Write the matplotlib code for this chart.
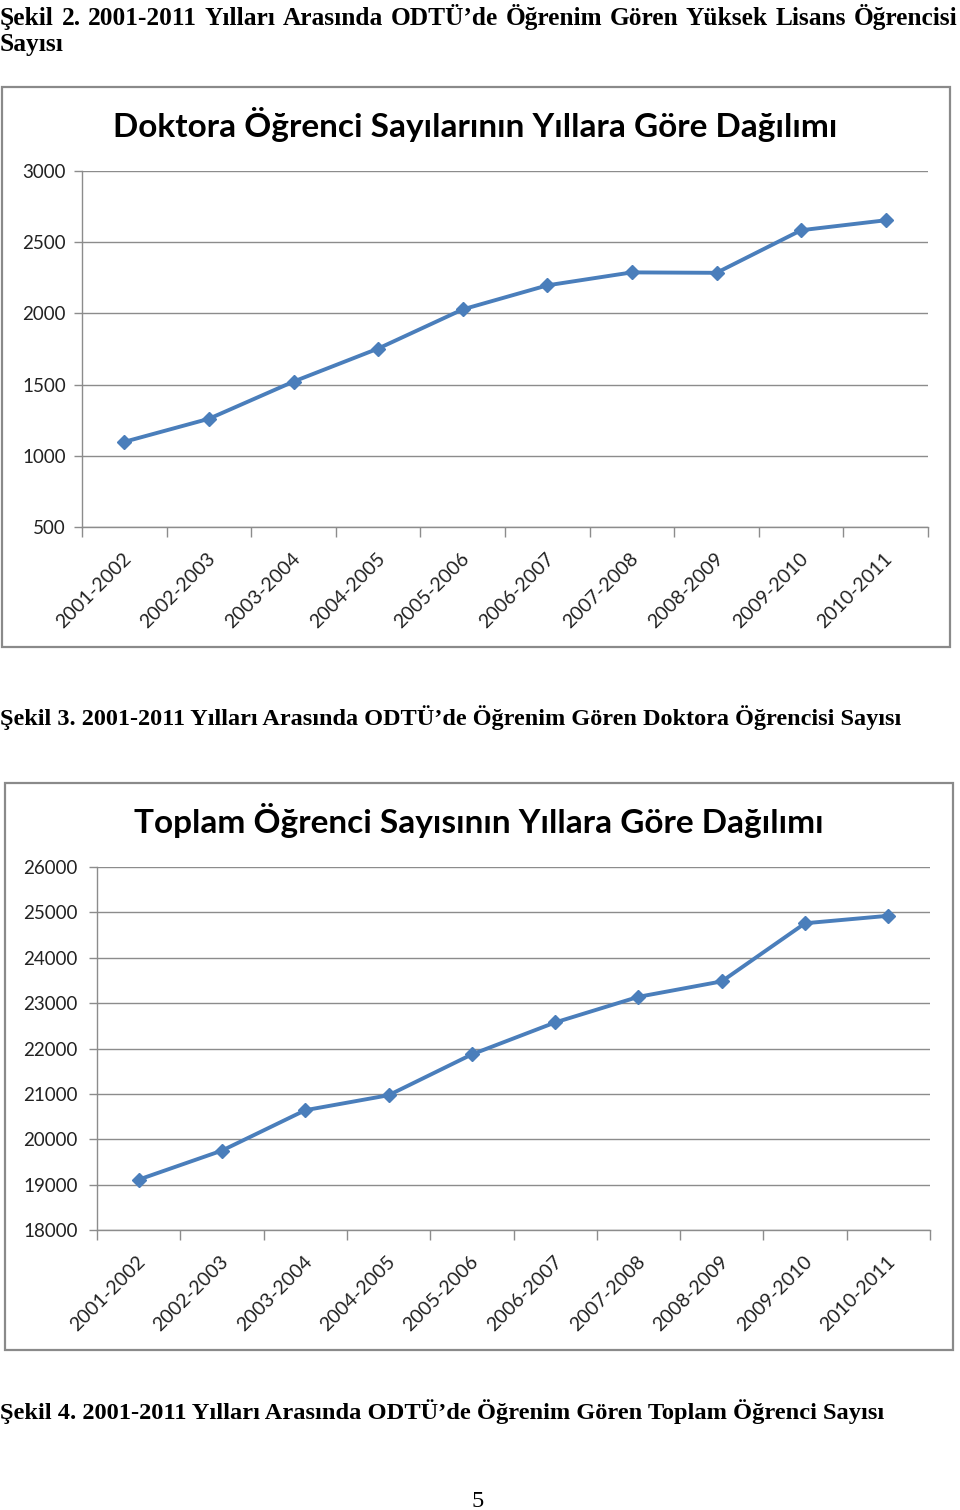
import numpy as np
import matplotlib
matplotlib.use("Agg")
import matplotlib.pyplot as plt
from matplotlib.patches import Rectangle
from matplotlib.transforms import ScaledTranslation

# ---------------- data ----------------
years = ["2001-2002", "2002-2003", "2003-2004", "2004-2005", "2005-2006",
         "2006-2007", "2007-2008", "2008-2009", "2009-2010", "2010-2011"]
doktora = [1098, 1260, 1521, 1753, 2028, 2197, 2288, 2285, 2584, 2654]
toplam = [19110, 19750, 20640, 20970, 21870, 22574, 23139, 23479, 24760, 24925]

doktora_ticks = [500, 1000, 1500, 2000, 2500, 3000]
toplam_ticks = [18000, 19000, 20000, 21000, 22000, 23000, 24000, 25000, 26000]

title1 = "Doktora Öğrenci Sayılarının Yıllara Göre Dağılımı"
title2 = "Toplam Öğrenci Sayısının Yıllara Göre Dağılımı"
cap2_line1 = "Şekil 2. 2001-2011 Yılları Arasında ODTÜ’de Öğrenim Gören Yüksek Lisans Öğrencisi"
cap2_line2 = "Sayısı"
cap3 = "Şekil 3. 2001-2011 Yılları Arasında ODTÜ’de Öğrenim Gören Doktora Öğrencisi Sayısı"
cap4 = "Şekil 4. 2001-2011 Yılları Arasında ODTÜ’de Öğrenim Gören Toplam Öğrenci Sayısı"
page_no = "5"

# ---------------- styles ----------------
W, H = 960, 1510
LINE_C = "#4A7EBB"
GRID_C = "#8C8C8C"
FRAME_C = "#8A8A8A"
SANS = ["Lato", "DejaVu Sans"]
SERIF = ["Liberation Serif", "DejaVu Serif"]

fig = plt.figure(figsize=(W / 100, H / 100), dpi=100)
fig.patch.set_facecolor("white")
renderer = fig.canvas.get_renderer()


def fx(x):
    return x / W


def fy(y):
    return 1 - y / H


def fit_width(t, width):
    bb = t.get_window_extent(renderer)
    t.set_fontsize(t.get_fontsize() * width / bb.width)


def frame(x0, y0, x1, y1):
    fig.patches.append(Rectangle((fx(x0), fy(y1)), fx(x1) - fx(x0), fy(y0) - fy(y1),
                                 transform=fig.transFigure, fill=False,
                                 edgecolor=FRAME_C, linewidth=1.6))


def chart(box, values, yticks, title, title_x, title_base, title_w, ypad):
    x0, y0, x1, y1 = box
    ax = fig.add_axes([fx(x0), fy(y1), fx(x1) - fx(x0), fy(y0) - fy(y1)])
    ax.set_facecolor("none")
    xs = np.arange(len(years))
    ax.plot(xs, values, color=LINE_C, linewidth=2.8, marker="D", markersize=7.5,
            markeredgecolor=LINE_C, markerfacecolor=LINE_C, zorder=3,
            solid_joinstyle="round")
    ax.set_xlim(-0.5, len(years) - 0.5)
    ax.set_ylim(yticks[0], yticks[-1])
    ax.set_yticks(yticks)
    ax.set_yticklabels([str(v) for v in yticks], fontsize=13.5, family=SANS, color="#222222")
    ax.tick_params(axis="y", length=6, width=1, color=GRID_C, pad=ypad, direction="out")
    ax.grid(axis="y", color=GRID_C, linewidth=1)
    ax.set_axisbelow(True)
    # category axis: boundary ticks, centred labels
    ax.set_xticks(np.arange(-0.5, len(years), 1.0))
    ax.set_xticklabels([])
    ax.tick_params(axis="x", which="major", length=7, width=1, color=GRID_C, direction="out")
    ax.set_xticks(xs, minor=True)
    ax.set_xticklabels(years, minor=True, rotation=45, ha="right", va="center",
                       rotation_mode="anchor", fontsize=14, family=SANS, color="#222222")
    ax.tick_params(axis="x", which="minor", length=0, pad=21)
    offset = ScaledTranslation(4 / 100, 0, fig.dpi_scale_trans)
    for lab in ax.get_xticklabels(minor=True):
        lab.set_transform(lab.get_transform() + offset)
    for s in ["top", "right"]:
        ax.spines[s].set_visible(False)
    for s in ["left", "bottom"]:
        ax.spines[s].set_color(GRID_C)
        ax.spines[s].set_linewidth(1)
    t = fig.text(fx(title_x), fy(title_base), title, ha="center", va="baseline",
                 fontsize=22, fontweight="bold", family=SANS, color="black")
    fit_width(t, title_w)
    return ax


# chart 1
frame(2, 87, 950, 647)
chart((82, 171, 928, 527), doktora, doktora_ticks, title1, 475, 137, 722, 5.5)

# chart 2
frame(5, 783, 953, 1350)
chart((97, 867, 930, 1230), toplam, toplam_ticks, title2, 478.5, 833, 687, 8)

# ---------------- captions ----------------
# justified first line of Şekil 2
words = cap2_line1.split()
fs = 15
tmp = [fig.text(0, 0, w, fontsize=fs, fontweight="bold", family=SERIF) for w in words]
widths = [t.get_window_extent(renderer).width for t in tmp]
sp1 = fig.text(0, 0, "a a", fontsize=fs, fontweight="bold", family=SERIF)
sp2 = fig.text(0, 0, "aa", fontsize=fs, fontweight="bold", family=SERIF)
sp_w = sp1.get_window_extent(renderer).width - sp2.get_window_extent(renderer).width
for t in tmp + [sp1, sp2]:
    t.remove()
target = 957
scale = (target - sp_w * (len(words) - 1) * 1.4) / sum(widths)
fs2 = fs * scale
tmp = [fig.text(0, 0, w, fontsize=fs2, fontweight="bold", family=SERIF) for w in words]
widths = [t.get_window_extent(renderer).width for t in tmp]
for t in tmp:
    t.remove()
gap = (target - sum(widths)) / (len(words) - 1)
x = 0.0
for w, wd in zip(words, widths):
    fig.text(fx(x), fy(25), w, fontsize=fs2, fontweight="bold", family=SERIF,
             ha="left", va="baseline")
    x += wd + gap
fig.text(fx(0), fy(51), cap2_line2, fontsize=fs2, fontweight="bold", family=SERIF,
         ha="left", va="baseline")

t3 = fig.text(fx(0), fy(725), cap3, fontsize=15, fontweight="bold", family=SERIF,
              ha="left", va="baseline")
fit_width(t3, 903)
t4 = fig.text(fx(0), fy(1419), cap4, fontsize=15, fontweight="bold", family=SERIF,
              ha="left", va="baseline")
fit_width(t4, 882)
fig.text(fx(478), fy(1507), page_no, fontsize=t4.get_fontsize(), family=SERIF,
         ha="center", va="baseline")

fig.savefig("out.png", dpi=100, facecolor="white")
